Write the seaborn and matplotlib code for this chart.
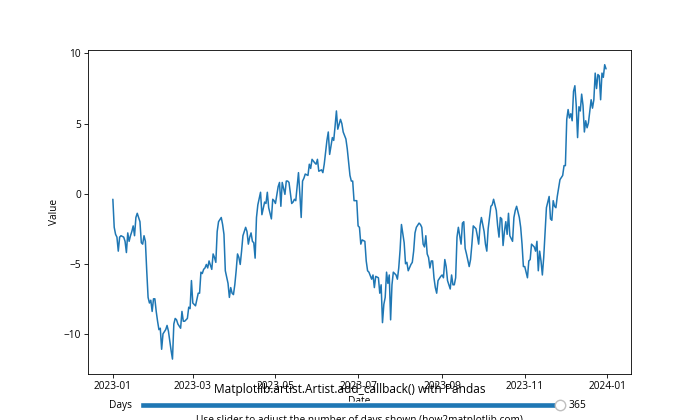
import matplotlib
matplotlib.use("Agg")
import matplotlib.pyplot as plt
from matplotlib.widgets import Slider
import seaborn as sns
import pandas as pd
import numpy as np

# ---- data (day offsets from 2023-01-01 and values) ----
start_date = "2023-01-01"
day_offsets = [
    0, 1, 2, 3, 4, 5, 6, 8, 9, 10, 11, 12, 13, 14, 15, 16, 17, 18, 20, 21, 22, 23, 24,
    25, 26, 27, 28, 29, 30, 31, 32, 33, 34, 35, 36, 37, 39, 40, 41, 42, 43, 44, 45, 46,
    47, 48, 50, 51, 52, 53, 55, 56, 57, 58, 59, 61, 63, 64, 65, 66, 67, 68, 69, 70, 71,
    73, 74, 75, 76, 77, 78, 80, 81, 82, 83, 85, 86, 87, 88, 89, 90, 91, 92, 93, 94, 95,
    96, 98, 99, 100, 101, 102, 103, 104, 105, 106, 107, 109, 110, 112, 113, 114, 115,
    117, 118, 119, 120, 122, 123, 124, 125, 127, 128, 129, 130, 132, 133, 134, 135, 137,
    138, 139, 140, 141, 142, 144, 145, 146, 147, 149, 150, 151, 152, 154, 155, 156, 158,
    159, 160, 162, 163, 164, 165, 166, 168, 169, 170, 172, 173, 175, 176, 177, 178, 180,
    181, 182, 183, 184, 186, 187, 188, 189, 191, 192, 193, 194, 196, 197, 198, 199, 200,
    201, 202, 203, 204, 205, 206, 207, 209, 210, 211, 212, 213, 215, 216, 217, 218, 220,
    221, 222, 223, 224, 226, 227, 228, 229, 230, 231, 232, 233, 234, 235, 236, 237, 238,
    239, 240, 242, 243, 244, 245, 246, 247, 249, 250, 251, 252, 253, 254, 255, 257, 258,
    259, 260, 261, 263, 264, 265, 266, 268, 269, 270, 271, 272, 274, 275, 276, 277, 279,
    280, 281, 282, 283, 284, 285, 286, 287, 288, 289, 290, 291, 292, 293, 295, 296, 297,
    298, 300, 301, 302, 303, 304, 306, 307, 308, 309, 311, 312, 313, 314, 315, 316, 317,
    318, 319, 320, 322, 323, 324, 325, 326, 327, 328, 329, 330, 332, 333, 334, 335, 336,
    337, 338, 339, 340, 341, 342, 343, 344, 345, 346, 347, 348, 349, 350, 351, 353, 354,
    355, 356, 357, 358, 359, 360, 361, 362, 363, 364,
]
values = [
    -0.4, -2.4, -2.9, -3.1, -4.1, -3.1, -3.0, -3.1, -3.4, -4.2, -2.8, -3.4, -3.0, -2.7,
    -2.3, -3.0, -1.7, -1.4, -2.0, -3.5, -3.6, -3.0, -3.4,
    -5.5, -7.4, -7.8, -7.6, -8.4, -7.5, -7.5, -8.4, -9.1, -9.7, -9.6, -11.1, -10.0, -9.7,
    -9.4, -9.8, -10.5, -11.2, -11.8, -9.3, -8.9,
    -9.0, -9.3, -9.6, -8.4, -9.1, -9.1, -8.9, -8.1, -8.2, -6.2, -7.8, -8.0, -7.1, -7.1,
    -5.6, -5.7, -5.4, -5.3, -5.05, -5.3, -4.8,
    -5.4, -4.3, -4.55, -4.9, -2.7, -2.0, -1.7, -2.2, -2.9, -5.5, -6.4, -7.4, -6.7, -7.1,
    -7.2, -6.5, -5.5, -4.3, -4.55, -5.05, -4.1,
    -3.0, -2.4, -2.7, -3.6, -3.1, -2.8, -3.4, -3.5, -4.6, -1.7, -0.8, 0.1, -1.5, -0.6,
    -0.7, 0.1, -1.0,
    -1.8, -0.4, -0.5, -0.7, 0.5, 0.8, -0.9, 0.8, -0.05, 0.9, 0.9, 0.8, -0.7, -0.6, -0.4,
    -0.5, 1.5,
    0.0, -1.7, 0.9, 1.1, 1.4, 1.3, 2.1, 1.8, 2.45, 2.2, 2.1, 2.45, 1.6, 1.7, 1.5, 2.1, 3.8,
    4.4, 2.8, 4.0, 3.8, 4.8, 5.9, 4.6, 5.3, 5.0, 4.4, 3.9, 3.2, 1.3, 0.9, 0.9, -0.5, -0.5,
    -2.3, -2.4, -3.6, -3.3, -3.4, -4.8, -5.5, -5.6, -6.1, -5.8, -6.7, -5.9, -6.0, -7.1,
    -6.5, -9.2, -7.9,
    -7.4, -5.6, -6.4, -5.8, -9.0, -6.5, -5.6, -5.8, -6.1, -5.3, -4.0, -2.2, -3.5, -5.0,
    -4.9, -5.5, -5.05,
    -4.9, -4.1, -2.8, -2.4, -2.1, -2.2, -2.4, -3.6, -3.8, -3.0, -4.3, -4.55, -5.3, -4.8,
    -4.8, -6.0, -6.7,
    -7.1, -6.2, -5.9, -5.8, -6.0, -4.7, -5.2, -6.2, -6.8, -5.8, -6.5, -6.5, -6.0, -3.1,
    -2.4, -3.6, -2.1,
    -2.0, -3.9, -4.3, -5.2, -4.7, -3.6, -2.3, -2.5, -3.0, -3.6, -2.3, -1.7, -2.7, -3.6,
    -4.1, -2.5, -0.9,
    -0.8, -0.4, -0.8, -1.2, -2.3, -3.1, -1.7, -1.8, -3.7, -2.7, -2.0, -2.9, -1.4, -3.0,
    -3.4, -1.7, -1.2,
    -0.9, -1.7, -2.4, -3.6, -5.2, -5.2, -6.0, -4.8, -4.7, -3.6, -3.8, -4.1, -3.4, -5.5,
    -4.1, -4.8, -5.8,
    -4.55, -2.7, -1.0, -0.2, -1.8, -1.9, -0.5, -0.9, -1.0, -0.2, 0.4, 1.0, 1.3, 2.0, 2.0,
    5.3, 6.0,
    5.4, 5.7, 5.2, 7.3, 7.7, 6.3, 4.0, 6.2, 5.9, 7.1, 6.3, 4.4, 5.2, 4.7, 5.05, 6.7, 6.1,
    6.7, 8.6, 7.5, 8.5, 8.4, 6.7, 8.6, 8.3, 9.2, 8.9,
]
title_text = "Matplotlib.artist.Artist.add_callback() with Pandas"
x_label = "Date"
y_label = "Value"
slider_label = "Days"
slider_min, slider_max, slider_init = 1, 365, 365
note_text = "Use slider to adjust the number of days shown (how2matplotlib.com)"

df = pd.DataFrame({
    "Date": pd.Timestamp(start_date) + pd.to_timedelta(day_offsets, unit="D"),
    "Value": values,
})

sns.set_style("ticks")
plt.rcParams["font.family"] = ["Open Sans", "DejaVu Sans"]
FS = 7.3
plt.rcParams.update({
    "font.size": FS,
    "axes.linewidth": 0.6,
    "axes.edgecolor": "black",
    "xtick.major.size": 2.6, "ytick.major.size": 2.6,
    "xtick.major.width": 0.6, "ytick.major.width": 0.6,
    "xtick.major.pad": 2.6, "ytick.major.pad": 2.6,
    "xtick.color": "black", "ytick.color": "black",
    "axes.labelcolor": "black", "text.color": "black",
})

fig = plt.figure(figsize=(7, 4.2), dpi=100)
ax = fig.add_axes([0.126, 0.11, 0.775, 0.771])
sns.lineplot(data=df, x="Date", y="Value", ax=ax, color="#1f77b4", linewidth=1.1)
ax.set_xlabel(x_label, fontsize=FS, labelpad=2.9)
ax.set_ylabel(y_label, fontsize=FS, labelpad=2.9)
ax.tick_params(labelsize=FS)
for s in ax.spines.values():
    s.set_visible(True)
    s.set_linewidth(0.6)

ax_slider = fig.add_axes([0.2, 0.02, 0.6, 0.03])
slider = Slider(ax_slider, slider_label, slider_min, slider_max,
                valinit=slider_init, valstep=1, initcolor="none",
                handle_style={"size": 7.5})
slider.label.set_fontsize(FS)
slider.valtext.set_fontsize(FS)
ax_slider.set_title(title_text, fontsize=8.6, pad=4.4)

fig.text(0.5136, 0.0, note_text, ha="center", va="center", fontsize=FS)

fig.savefig("out.png", dpi=100)
